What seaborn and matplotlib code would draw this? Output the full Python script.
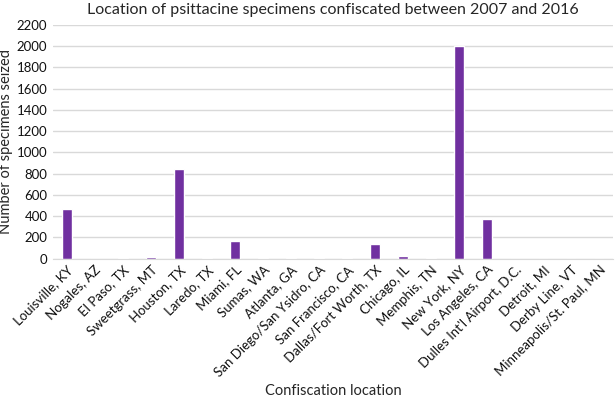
import matplotlib
matplotlib.use("Agg")
import pandas as pd
import seaborn as sns
import matplotlib.pyplot as plt

locations = ["Louisville, KY", "Nogales, AZ", "El Paso, TX", "Sweetgrass, MT", "Houston, TX",
             "Laredo, TX", "Miami, FL", "Sumas, WA", "Atlanta, GA", "San Diego/San Ysidro, CA",
             "San Francisco, CA", "Dallas/Fort Worth, TX", "Chicago, IL", "Memphis, TN",
             "New York, NY", "Los Angeles, CA", "Dulles Int'l Airport, D.C.", "Detroit, MI",
             "Derby Line, VT", "Minneapolis/St. Paul, MN"]
seized = [465, 2, 8, 15, 848, 6, 166, 3, 6, 10, 5, 138, 25, 10, 2005, 372, 1, 1, 1, 1]

df = pd.DataFrame({"location": locations, "seized": seized})

sns.set_style("white")
plt.rcParams["font.family"] = ["Lato", "DejaVu Sans"]

fig, ax = plt.subplots(figsize=(6.15, 4.03), dpi=100)
sns.barplot(data=df, x="location", y="seized", color="#7030A0", saturation=1, width=0.36, ax=ax)

ax.set_ylim(0, 2200)
ax.set_yticks(range(0, 2201, 200))
ax.yaxis.grid(True, color="#d9d9d9", linewidth=1)
ax.set_axisbelow(True)
for s in ["top", "right", "left"]:
    ax.spines[s].set_visible(False)
ax.spines["bottom"].set_color("#d9d9d9")
ax.tick_params(axis="both", length=0, labelsize=9.5, colors="#111111")
ax.tick_params(axis="y", pad=4)
plt.setp(ax.get_xticklabels(), rotation=45, ha="right", rotation_mode="anchor")
ax.set_xlabel("Confiscation location", fontsize=10.5)
ax.set_ylabel("Number of specimens seized", fontsize=10.5)
ax.yaxis.set_label_coords(-0.072, 0.5)
ax.set_title("Location of psittacine specimens confiscated between 2007 and 2016", fontsize=11.5, pad=8)

plt.subplots_adjust(left=0.086, right=0.997, top=0.938, bottom=0.358)
plt.savefig("out.png", dpi=100)
